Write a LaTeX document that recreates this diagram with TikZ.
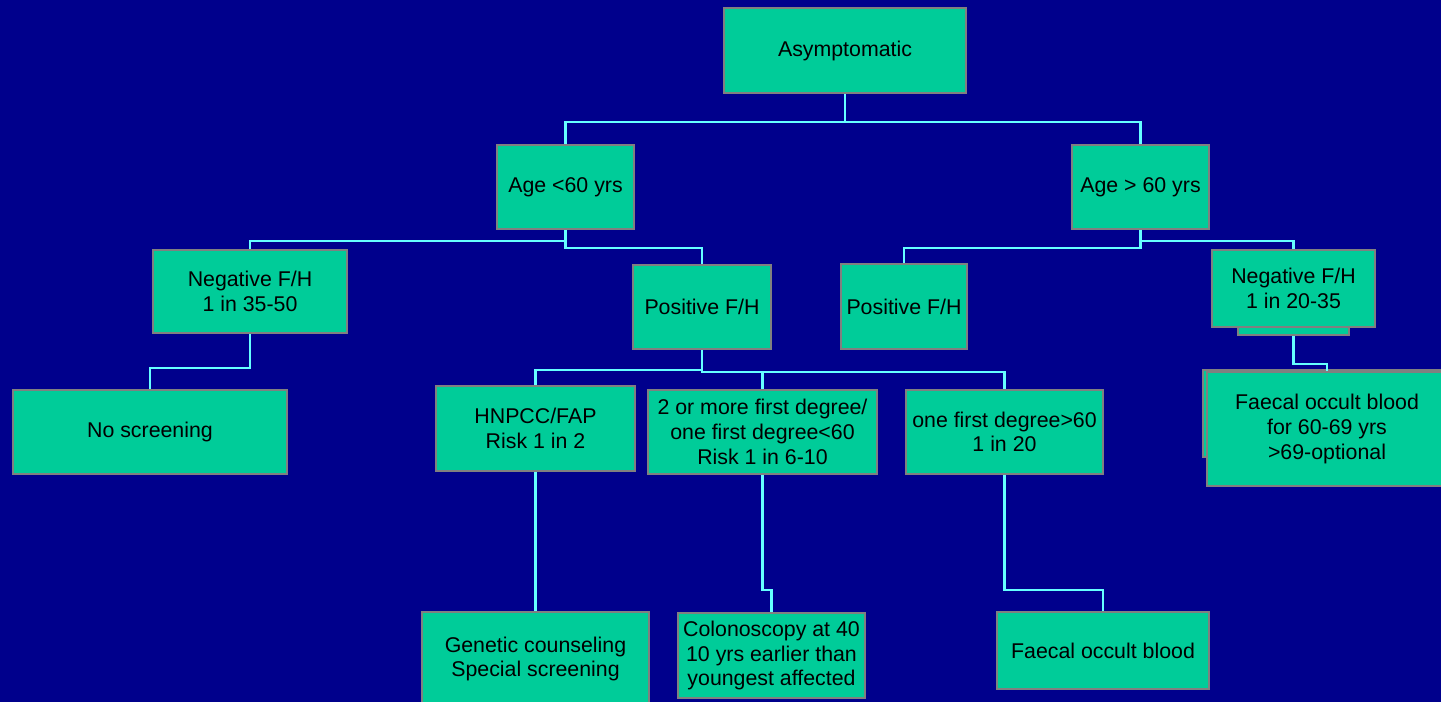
\documentclass[tikz,border=0pt]{standalone}
\usepackage{fontspec}
\setmainfont{Liberation Sans}
\usetikzlibrary{calc}

\definecolor{slidebg}{RGB}{0,0,140}
\definecolor{boxfill}{RGB}{0,204,153}
\definecolor{boxline}{RGB}{128,128,128}
\definecolor{linkcol}{RGB}{102,255,255}

\begin{document}
\begin{tikzpicture}[x=0.75pt, y=-0.75pt,
    box/.style={draw=boxline, line width=1.5pt, fill=boxfill, text=black,
      align=center, inner sep=2pt, font=\fontsize{16}{18.5}\selectfont},
    link/.style={draw=linkcol, line width=1.6pt}]

    % Slide background
    \fill[slidebg] (0,0) rectangle (1441,702);
    \useasboundingbox (0,0) rectangle (1441,702);
    \clip (0,0) rectangle (1441,702);

    % Top level
    \node[box, minimum width=181.5pt, minimum height=63.75pt] (asym) at (845,50.5) {Asymptomatic};

    % Age groups
    \node[box, minimum width=102.75pt, minimum height=63pt] (ageyoung) at (565.5,187) {Age <60 yrs};
    \node[box, minimum width=102.75pt, minimum height=63pt] (ageold) at (1140.5,187) {Age > 60 yrs};

    % Family history, under 60
    \node[box, minimum width=145.5pt, minimum height=62.25pt] (negyoung) at (250,291.5) {Negative F/H\\1 in 35-50};
    \node[box, minimum width=103.5pt, minimum height=63pt] (posyoung) at (702,307) {Positive F/H};

    % Family history, over 60
    \node[box, minimum width=94.5pt, minimum height=63.75pt] (posold) at (904,306.5) {Positive F/H};
    \node[box, minimum width=83.25pt, minimum height=56.25pt] (negoldback) at (1293.5,297.5) {};
    \node[box, minimum width=122.25pt, minimum height=57.75pt] (negold) at (1293.5,288.5) {Negative F/H\\1 in 20-35};

    % Third row
    \node[box, minimum width=205.5pt, minimum height=63pt] (noscreen) at (150,432) {No screening};
    \node[box, minimum width=149.25pt, minimum height=63.75pt] (hnpcc) at (535.5,428.5) {HNPCC/FAP\\Risk 1 in 2};
    \node[box, minimum width=171.75pt, minimum height=63pt] (twofirst) at (762.5,432) {2 or more first degree/\\one first degree<60\\Risk 1 in 6-10};
    \node[box, minimum width=147.75pt, minimum height=63pt] (onefirst) at (1004.5,432) {one first degree>60\\1 in 20};
    \node[box, minimum width=183pt, minimum height=65.25pt] (faecaloldback) at (1325,413.5) {};
    \node[box, minimum width=180pt, minimum height=85.5pt] (faecalold) at (1327,429) {Faecal occult blood\\for 60-69 yrs\\>69-optional};

    % Bottom row
    \node[box, minimum width=170.25pt, minimum height=70.5pt] (genetic) at (535.5,659) {Genetic counseling\\Special screening};
    \node[box, minimum width=140.25pt, minimum height=63.75pt] (colono) at (771.5,655.5) {Colonoscopy at 40\\10 yrs earlier than\\youngest affected};
    \node[box, minimum width=159pt, minimum height=57.75pt] (faecal) at (1103,650.5) {Faecal occult blood};

    % Connectors
    \draw[link] (asym.south) -- ++(0,28) -| (ageyoung.north);
    \draw[link] (asym.south) -- ++(0,28) -| (ageold.north);

    \draw[link] (ageyoung.south) -- ++(0,11) -| (negyoung.north);
    \draw[link] (ageyoung.south) -- ++(0,18) -| (posyoung.north);

    \draw[link] (ageold.south) -- ++(0,18) -| (posold.north);
    \draw[link] (ageold.south) -- ++(0,11) -| (negold.north);

    \draw[link] (negyoung.south) -- ++(0,34) -| (noscreen.north);

    \draw[link] (posyoung.south) -- ++(0,20) -| (hnpcc.north);
    \draw[link] (posyoung.south) -- ++(0,22) -| (twofirst.north);
    \draw[link] (posyoung.south) -- ++(0,22) -| (onefirst.north);

    \draw[link] (negoldback.south) -- ++(0,28) -| (faecalold.north);

    \draw[link] (hnpcc.south) -- (genetic.north);
    \draw[link] (twofirst.south) -- ++(0,115) -| (colono.north);
    \draw[link] (onefirst.south) -- ++(0,115) -| (faecal.north);
\end{tikzpicture}
\end{document}
